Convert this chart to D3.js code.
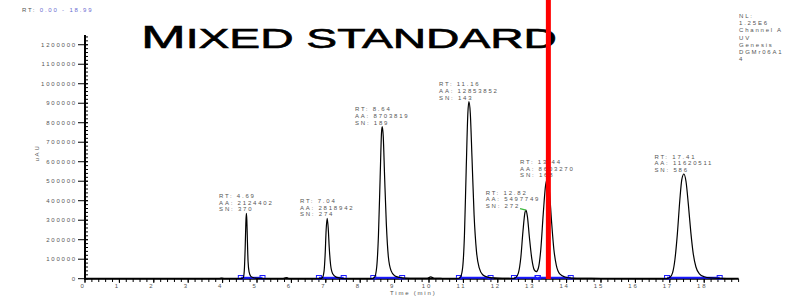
<!DOCTYPE html>
<html>
<head>
<meta charset="utf-8">
<script src="https://cdn.jsdelivr.net/npm/d3@7"></script>
<style>
html, body { margin: 0; padding: 0; background: #fff; }
svg { display: block; }
text { font-family: "Liberation Sans", Arial, sans-serif; }
</style>
</head>
<body>
<svg id="chart" width="790" height="298"></svg>
<script>
// chromatogram (time in min, signal in uAU)
const xTickLabels = [0, 1, 2, 3, 4, 5, 6, 7, 8, 9, 10, 11, 12, 13, 14, 15, 16, 17, 18];
const yTickValues = [0, 100000, 200000, 300000, 400000, 500000, 600000, 700000, 800000, 900000, 1000000, 1100000, 1200000];
const trace = [
	[0, 0], [3.9, 0], [3.97, 3000], [4.05, 0],
	[4.55, 0], [4.6, 4000], [4.63, 40000], [4.655, 150000], [4.675, 280000], [4.69, 335000], [4.705, 300000],
	[4.72, 200000], [4.74, 90000], [4.77, 35000], [4.82, 12000], [4.9, 5000], [5.05, 1500], [5.2, 0],
	[5.75, 0], [5.82, 5000], [5.87, 6000], [5.93, 0],
	[6.85, 0], [6.9, 5000], [6.95, 40000], [6.98, 120000], [7.01, 250000], [7.04, 310000], [7.07, 260000],
	[7.1, 160000], [7.14, 70000], [7.2, 25000], [7.3, 8000], [7.45, 2000], [7.6, 0],
	[8.35, 0], [8.42, 8000], [8.48, 60000], [8.53, 220000], [8.58, 520000], [8.62, 750000], [8.64, 780000],
	[8.67, 730000], [8.71, 520000], [8.76, 280000], [8.82, 110000], [8.9, 40000], [9.0, 15000], [9.15, 6000],
	[9.3, 3000], [9.6, 2000], [9.95, 2000], [10.05, 9000], [10.15, 2000], [10.4, 1000],
	[10.85, 0], [10.92, 10000], [10.98, 60000], [11.03, 220000], [11.08, 550000], [11.13, 850000], [11.16, 908000],
	[11.2, 850000], [11.25, 620000], [11.31, 330000], [11.38, 140000], [11.46, 55000], [11.56, 20000], [11.7, 8000],
	[11.9, 4000], [12.2, 2000], [12.45, 1000],
	[12.52, 5000], [12.6, 30000], [12.67, 110000], [12.73, 240000], [12.79, 340000], [12.82, 352000], [12.86, 320000],
	[12.92, 210000], [12.99, 100000], [13.06, 45000], [13.12, 36000], [13.18, 55000], [13.25, 150000], [13.32, 330000],
	[13.39, 480000], [13.44, 510000], [13.5, 450000], [13.56, 300000], [13.63, 150000], [13.7, 70000], [13.8, 25000],
	[13.95, 9000], [14.15, 3000], [14.5, 1500], [15.0, 1000], [16.9, 0],
	[17.0, 6000], [17.08, 30000], [17.15, 100000], [17.22, 230000], [17.29, 400000], [17.35, 510000], [17.41, 537000],
	[17.47, 500000], [17.54, 380000], [17.61, 240000], [17.68, 130000], [17.76, 60000], [17.86, 25000], [18.0, 10000],
	[18.2, 4000], [18.5, 1500], [18.88, 0]
];
const peakRT = [4.69, 7.04, 8.64, 11.16, 12.82, 13.44, 17.41];
const peakArea = [2124402, 2818942, 8703819, 12853852, 5497749, 8603270, 11620511];
const peakSN = [370, 274, 189, 143, 272, 168, 586];
const peakHeight = [335000, 310000, 780000, 908000, 352000, 510000, 537000];
const baselineSegs = [[4.53, 5.16], [6.8, 7.52], [8.38, 9.22], [10.87, 11.79], [12.47, 13.16], [13.16, 14.12], [16.92, 18.45]];
const cursorRT = 13.47;
const infoLines = ['NL:', '1.25E6', 'Channel A', 'UV', 'Genesis', 'DGMr06A1', '4'];

const svg = d3.select('#chart');
const x = d3.scaleLinear().domain([0, 19]).range([85, 738.6]);
const y = d3.scaleLinear().domain([0, 1250000]).range([278.7, 35]);
const grey = '#555';

function smallText(sel) {
	return sel.attr('font-size', 6).attr('letter-spacing', 1.8).attr('fill', grey);
}

// title
let title = svg.append('text').attr('x', 141).attr('y', 48).attr('fill', '#000')
	.attr('stroke', '#000').attr('stroke-width', 0.6)
	.attr('textLength', 416).attr('lengthAdjust', 'spacingAndGlyphs');
title.append('tspan').attr('font-size', 32).text('M');
title.append('tspan').attr('font-size', 27.5).text('IXED STANDARD');

// top-left range
let rng = smallText(svg.append('text').attr('x', 22).attr('y', 12));
rng.append('tspan').text('RT: ');
rng.append('tspan').attr('fill', '#6b6bd0').text('0.00 - 18.99');

// right info block
infoLines.forEach((s, i) => {
	smallText(svg.append('text').attr('x', 739).attr('y', 18 + i * 7.2)).text(s);
});

// y axis
const yAxis = svg.append('g');
yAxis.selectAll('line.minor').data(d3.range(0, 1250001, 20000)).enter().append('line')
	.attr('x1', 85).attr('x2', 88).attr('y1', d => y(d)).attr('y2', d => y(d))
	.attr('stroke', '#000').attr('stroke-width', 1);
yAxis.selectAll('line.major').data(yTickValues).enter().append('line')
	.attr('x1', 78).attr('x2', 88).attr('y1', d => y(d)).attr('y2', d => y(d))
	.attr('stroke', '#000').attr('stroke-width', 1);
yAxis.selectAll('text').data(yTickValues).enter().append('text')
	.call(smallText)
	.attr('x', 77).attr('y', d => y(d)).attr('dy', '0.35em').attr('text-anchor', 'end')
	.text(d => d);
yAxis.append('line').attr('x1', 85).attr('x2', 85).attr('y1', 35).attr('y2', 279.5)
	.attr('stroke', '#000').attr('stroke-width', 2);
smallText(svg.append('text')).attr('transform', 'translate(39,153) rotate(-90)')
	.attr('text-anchor', 'middle').text('uAU');

// x axis
const xAxis = svg.append('g');
xAxis.selectAll('line.minor').data(d3.range(0, 19.01, 0.2)).enter().append('line')
	.attr('x1', d => x(d)).attr('x2', d => x(d)).attr('y1', 278.7).attr('y2', 282)
	.attr('stroke', '#000').attr('stroke-width', 1);
xAxis.selectAll('line.major').data(xTickLabels).enter().append('line')
	.attr('x1', d => x(d)).attr('x2', d => x(d)).attr('y1', 278.7).attr('y2', 283)
	.attr('stroke', '#000').attr('stroke-width', 1);
xAxis.selectAll('text').data(xTickLabels).enter().append('text')
	.call(smallText)
	.attr('x', d => x(d) - 2).attr('y', 288).attr('text-anchor', 'middle')
	.text(d => d);
xAxis.append('line').attr('x1', 84).attr('x2', x(19)).attr('y1', 278.7).attr('y2', 278.7)
	.attr('stroke', '#000').attr('stroke-width', 2);
smallText(svg.append('text')).attr('x', 390).attr('y', 295).text('Time (min)');

// baseline segments
const segs = svg.append('g');
baselineSegs.forEach(s => {
	segs.append('line').attr('x1', x(s[0])).attr('x2', x(s[1])).attr('y1', 277.8).attr('y2', 277.8)
		.attr('stroke', '#1a1aff').attr('stroke-width', 2);
	s.forEach(t => {
		segs.append('rect').attr('x', x(t) - 2.5).attr('y', 275.5).attr('width', 5).attr('height', 3.5)
			.attr('fill', 'none').attr('stroke', '#1a1aff').attr('stroke-width', 1);
	});
});

// trace
const line = d3.line().x(d => x(d[0])).y(d => y(d[1])).curve(d3.curveMonotoneX);
svg.append('path').datum(trace).attr('d', line)
	.attr('fill', 'none').attr('stroke', '#000').attr('stroke-width', 1.2);

// peak labels
const labelShift = { 4: -13 };
peakRT.forEach((rt, i) => {
	const ax = x(rt), ay = y(peakHeight[i]);
	const lines = ['RT: ' + rt.toFixed(2), 'AA: ' + peakArea[i], 'SN: ' + peakSN[i]];
	const g = svg.append('g');
	const texts = lines.map((s, j) => smallText(g.append('text')).attr('y', ay - 2 - (2 - j) * 6.7).text(s));
	const w = d3.max(texts, t => t.node().getComputedTextLength());
	const left = ax - w / 2 + (labelShift[i] || 0);
	texts.forEach(t => t.attr('x', left));
	if (labelShift[i]) {
		const snEnd = left + texts[2].node().getComputedTextLength();
		g.append('line').attr('x1', snEnd).attr('y1', ay - 1.5).attr('x2', ax).attr('y2', ay)
			.attr('stroke', '#3cb83c').attr('stroke-width', 1.2);
	}
});

// cursor marker
svg.append('rect').attr('x', x(cursorRT) - 2.5).attr('y', 0).attr('width', 5).attr('height', 279)
	.attr('fill', '#ff0000');
</script>
</body>
</html>
